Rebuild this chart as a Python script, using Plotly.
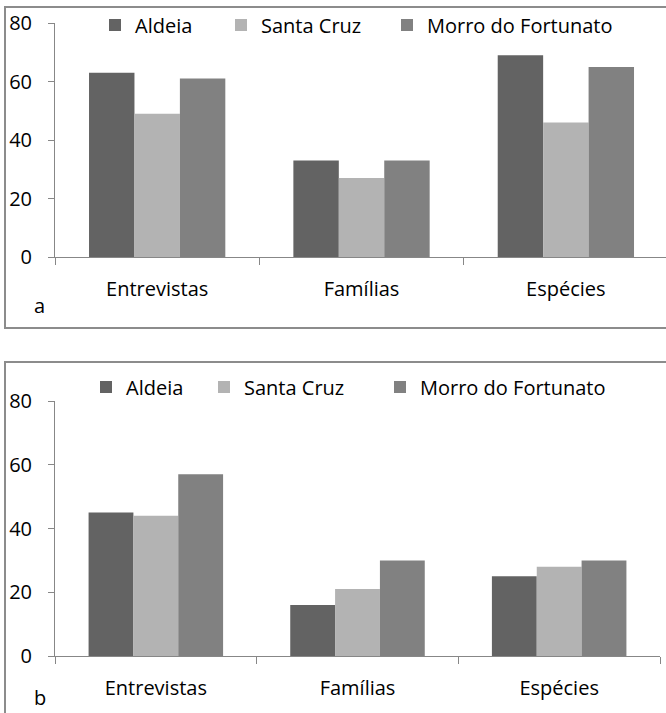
import plotly.graph_objects as go

# Data
categories = ["Entrevistas", "Famílias", "Espécies"]
series_names = ["Aldeia", "Santa Cruz", "Morro do Fortunato"]
panel_a = {
    "Aldeia": [63, 33, 69],
    "Santa Cruz": [49, 27, 46],
    "Morro do Fortunato": [61, 33, 65],
}
panel_b = {
    "Aldeia": [45, 16, 25],
    "Santa Cruz": [44, 21, 28],
    "Morro do Fortunato": [57, 30, 30],
}
y_ticks = [0, 20, 40, 60, 80]

colors = {"Aldeia": "#636363", "Santa Cruz": "#b3b3b3", "Morro do Fortunato": "#818181"}

W, H = 666, 713
FONT = "Open Sans"
FS = 20
AXIS_COLOR = "#878787"
FRAME_COLOR = "#8c8c8c"

# Left edge (px) of each legend label, per panel
legend_text_x = {
    "a": [133, 259, 425],
    "b": [124, 242, 418],
}
legend_text_y = {"a": 25, "b": 387}


def px(x):
    return x / W


def py(y):
    return 1 - y / H


fig = go.Figure()
legend_layout = {}
n = 0
for panel, data, xa, ya in (("a", panel_a, "x", "y"), ("b", panel_b, "x2", "y2")):
    for i, name in enumerate(series_names):
        n += 1
        key = "legend" if n == 1 else f"legend{n}"
        fig.add_trace(go.Bar(
            x=categories, y=data[name], name=name, marker_color=colors[name],
            marker_line_width=0, xaxis=xa, yaxis=ya, legend=key,
        ))
        legend_layout[key] = dict(
            orientation="h", x=px(legend_text_x[panel][i] - 38), y=py(legend_text_y[panel]),
            xanchor="left", yanchor="middle", font=dict(family=FONT, size=FS),
            bgcolor="rgba(0,0,0,0)",
        )

common_x = dict(
    type="category", tickson="boundaries", ticks="outside", ticklen=7,
    tickcolor=AXIS_COLOR, showline=True, linecolor=AXIS_COLOR, linewidth=1,
    showgrid=False, zeroline=False, tickfont=dict(family=FONT, size=FS, color="#000"),
    ticklabelstandoff=14, fixedrange=True, automargin=False,
)
common_y = dict(
    range=[0, 80], tickvals=y_ticks, ticks="outside", ticklen=6, tickcolor=AXIS_COLOR,
    showline=True, linecolor=AXIS_COLOR, linewidth=1, showgrid=False, zeroline=False,
    tickfont=dict(family=FONT, size=FS, color="#000"), ticklabelstandoff=12,
    automargin=False,
)

fig.update_layout(
    width=W, height=H, margin=dict(l=0, r=0, t=0, b=0, autoexpand=False),
    paper_bgcolor="white", plot_bgcolor="white",
    barmode="group", bargap=0.333, bargroupgap=0,
    font=dict(family=FONT, size=FS, color="#000"),
    xaxis=dict(common_x, domain=[px(55), 1], range=[-0.5, 2.49], anchor="y"),
    yaxis=dict(common_y, domain=[py(257), py(23)], anchor="x"),
    xaxis2=dict(common_x, domain=[px(55), px(660)], range=[-0.5, 2.5], anchor="y2"),
    yaxis2=dict(common_y, domain=[py(656), py(401)], anchor="x2"),
    showlegend=True,
    **legend_layout,
)

# Panel frames
fig.add_shape(type="rect", xref="paper", yref="paper",
              x0=px(5), x1=1.02, y0=py(328), y1=py(7),
              line=dict(color=FRAME_COLOR, width=2), layer="below")
fig.add_shape(type="rect", xref="paper", yref="paper",
              x0=px(5), x1=1.02, y0=-0.02, y1=py(362),
              line=dict(color=FRAME_COLOR, width=2), layer="below")

# Panel letters
for letter, (lx, ly) in {"a": (39, 305), "b": (40, 697)}.items():
    fig.add_annotation(text=letter, xref="paper", yref="paper", x=px(lx), y=py(ly),
                       xanchor="center", yanchor="middle", showarrow=False,
                       font=dict(family=FONT, size=FS, color="#000"))

fig.write_html("out.html")
